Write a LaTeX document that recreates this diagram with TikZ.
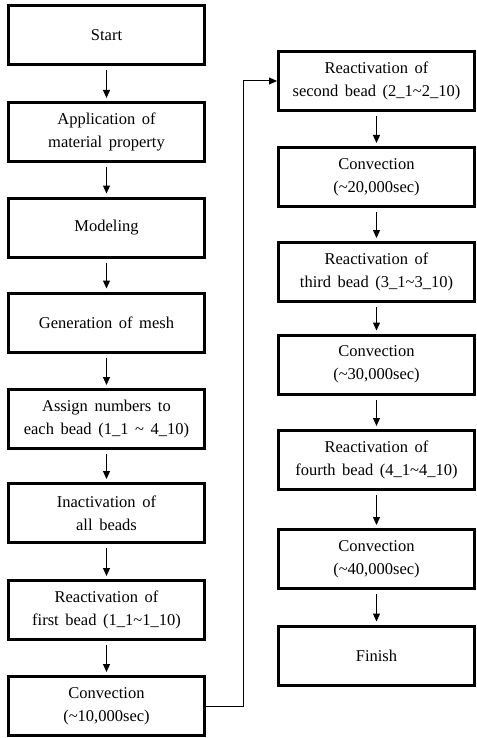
\documentclass[tikz,border=0pt]{standalone}
\usepackage{fontspec}
\setmainfont{Liberation Serif}
\usetikzlibrary{arrows.meta}
\newcommand{\stepfont}{\fontsize{16.5}{23}\selectfont\spaceskip 0.4em\relax}

\begin{document}
\begin{tikzpicture}[x=1pt, y=-1pt,
  stepbox/.style={draw=black, line width=3pt, minimum width=196pt, minimum height=59pt,
    inner sep=0pt, align=center, font=\stepfont},
  flow/.style={-{Triangle[length=8pt,width=7pt]}, line width=1.2pt, shorten <=4pt, shorten >=3pt},
  loopline/.style={-{Triangle[length=8pt,width=7pt]}, line width=1pt}]
\useasboundingbox (0,0) rectangle (476,738);
\node[stepbox] (S) at (106.5, 35.5) {Start};
\node[stepbox] (A) at (106.5, 132) {Application of\\material property};
\node[stepbox] (M) at (106.5, 227.5) {Modeling};
\node[stepbox] (G) at (106.5, 322.5) {Generation of mesh};
\node[stepbox] (N) at (106.5, 419) {Assign numbers to\\each bead (1\_1 \textasciitilde{} 4\_10)};
\node[stepbox] (I) at (106.5, 513) {Inactivation of\\all beads};
\node[stepbox] (R1) at (106.5, 610) {Reactivation of\\first bead (1\_1\textasciitilde1\_10)};
\node[stepbox] (C1) at (106.5, 706) {Convection\\(\textasciitilde10,000sec)};
\node[stepbox] (R2) at (376.5, 81) {Reactivation of\\second bead (2\_1\textasciitilde2\_10)};
\node[stepbox] (C2) at (376.5, 177) {Convection\\(\textasciitilde20,000sec)};
\node[stepbox] (R3) at (376.5, 272) {Reactivation of\\third bead (3\_1\textasciitilde3\_10)};
\node[stepbox] (C3) at (376.5, 364.5) {Convection\\(\textasciitilde30,000sec)};
\node[stepbox] (R4) at (376.5, 460) {Reactivation of\\fourth bead (4\_1\textasciitilde4\_10)};
\node[stepbox] (C4) at (376.5, 559) {Convection\\(\textasciitilde40,000sec)};
\node[stepbox] (F) at (376.5, 655.5) {Finish};
\coordinate (turn) at (243, 706);
\draw[flow] (S) -- (A);
\draw[flow] (A) -- (M);
\draw[flow] (M) -- (G);
\draw[flow] (G) -- (N);
\draw[flow] (N) -- (I);
\draw[flow] (I) -- (R1);
\draw[flow] (R1) -- (C1);
\draw[loopline] (C1.east) -- (turn) |- (R2.west);
\draw[flow] (R2) -- (C2);
\draw[flow] (C2) -- (R3);
\draw[flow] (R3) -- (C3);
\draw[flow] (C3) -- (R4);
\draw[flow] (R4) -- (C4);
\draw[flow] (C4) -- (F);
\end{tikzpicture}
\end{document}
